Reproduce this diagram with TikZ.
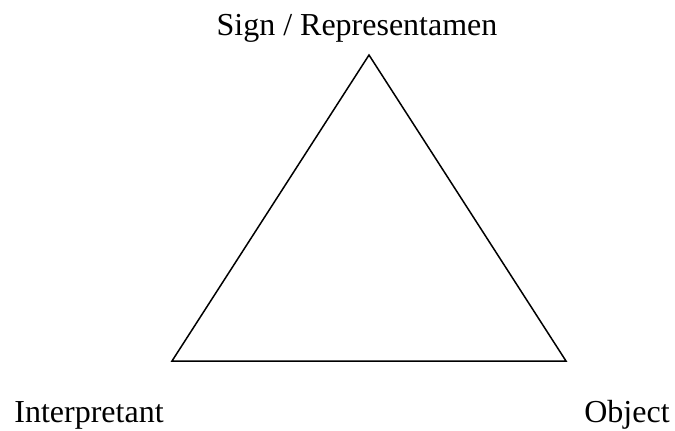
\documentclass[tikz,border=0pt]{standalone}
\usepackage{fontspec}
\setmainfont{Liberation Serif}
\usetikzlibrary{calc}

\begin{document}
\begin{tikzpicture}[x=0.5pt,y=-0.5pt,
  lbl/.style={anchor=base,inner sep=0pt,font=\fontsize{16}{19}\selectfont}]
  \useasboundingbox (0,0) rectangle (675,430);

  \coordinate (sign) at (369,55);
  \coordinate (interp) at (172,361);
  \coordinate (obj) at (566,361);

  \draw[line width=0.75pt, line join=miter] (sign) -- (obj) -- (interp) -- cycle;

  \node[lbl] (signlabel) at (357,35) {Sign / Representamen};
  \node[lbl] (interplabel) at (89,422) {Interpretant};
  \node[lbl] (objlabel) at (627,422) {Object};
\end{tikzpicture}
\end{document}
